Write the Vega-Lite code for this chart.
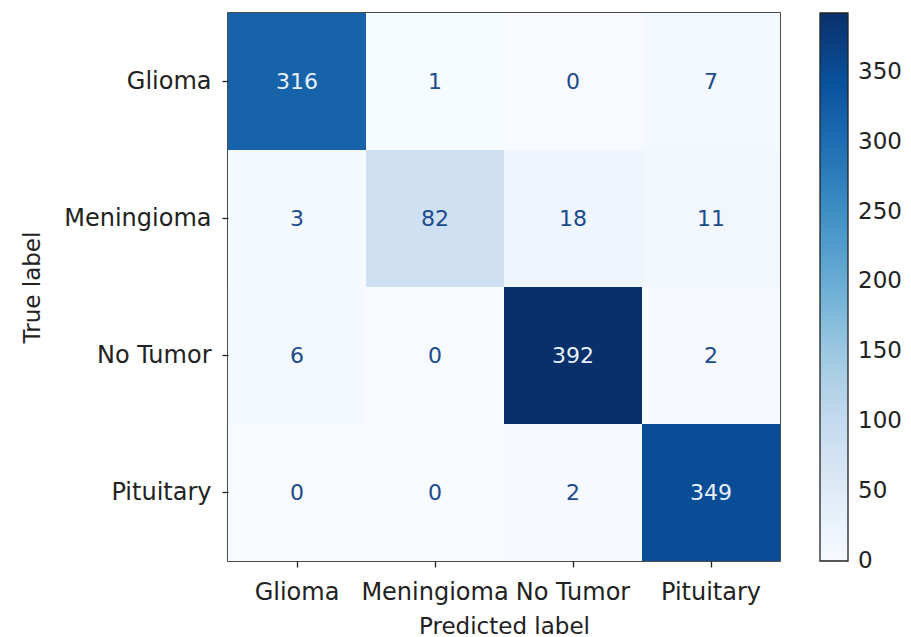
{
  "$schema": "https://vega.github.io/schema/vega-lite/v6.json",
  "autosize": "none",
  "width": 552,
  "height": 548,
  "padding": {"left": 228, "top": 13, "right": 131, "bottom": 76},
  "background": "white",
  "config": {
    "font": "DejaVu Sans",
    "view": {"stroke": "#111", "strokeWidth": 1.5},
    "axis": {
      "domain": false,
      "grid": false,
      "tickColor": "#222",
      "tickSize": 6,
      "tickWidth": 1.3,
      "labelFont": "DejaVu Sans",
      "labelFontSize": 24,
      "labelColor": "#222",
      "titleFont": "DejaVu Sans",
      "titleFontSize": 23,
      "titleFontWeight": "normal",
      "titleColor": "#222"
    }
  },
  "data": {
    "values": [
      {"true": "Glioma", "pred": "Glioma", "count": 316},
      {"true": "Glioma", "pred": "Meningioma", "count": 1},
      {"true": "Glioma", "pred": "No Tumor", "count": 0},
      {"true": "Glioma", "pred": "Pituitary", "count": 7},
      {"true": "Meningioma", "pred": "Glioma", "count": 3},
      {"true": "Meningioma", "pred": "Meningioma", "count": 82},
      {"true": "Meningioma", "pred": "No Tumor", "count": 18},
      {"true": "Meningioma", "pred": "Pituitary", "count": 11},
      {"true": "No Tumor", "pred": "Glioma", "count": 6},
      {"true": "No Tumor", "pred": "Meningioma", "count": 0},
      {"true": "No Tumor", "pred": "No Tumor", "count": 392},
      {"true": "No Tumor", "pred": "Pituitary", "count": 2},
      {"true": "Pituitary", "pred": "Glioma", "count": 0},
      {"true": "Pituitary", "pred": "Meningioma", "count": 0},
      {"true": "Pituitary", "pred": "No Tumor", "count": 2},
      {"true": "Pituitary", "pred": "Pituitary", "count": 349}
    ]
  },
  "encoding": {
    "x": {
      "field": "pred", "type": "nominal",
      "sort": ["Glioma", "Meningioma", "No Tumor", "Pituitary"],
      "scale": {"paddingInner": 0, "paddingOuter": 0},
      "axis": {"title": "Predicted label", "labelAngle": 0, "labelPadding": 13, "titlePadding": 11}
    },
    "y": {
      "field": "true", "type": "nominal",
      "sort": ["Glioma", "Meningioma", "No Tumor", "Pituitary"],
      "scale": {"paddingInner": 0, "paddingOuter": 0},
      "axis": {"title": "True label", "labelPadding": 11, "titlePadding": 19}
    }
  },
  "layer": [
    {
      "mark": {"type": "rect"},
      "encoding": {
        "color": {
          "field": "count", "type": "quantitative",
          "scale": {
            "domain": [0, 49, 98, 147, 196, 245, 294, 343, 392],
            "range": ["#f7fbff", "#deebf7", "#c6dbef", "#9ecae1", "#6baed6", "#4292c6", "#2171b5", "#08519c", "#08306b"]
          },
          "legend": {
            "title": null,
            "orient": "right",
            "offset": 40,
            "direction": "vertical",
            "gradientLength": 548,
            "gradientThickness": 28,
            "gradientStrokeColor": "#222",
            "gradientStrokeWidth": 1.3,
            "values": [0, 50, 100, 150, 200, 250, 300, 350],
            "labelFont": "DejaVu Sans",
            "labelFontSize": 23,
            "labelColor": "#222",
            "labelOffset": 10,
            "padding": 0,
            "encode": {
              "labels": {"update": {"baseline": {"value": "middle"}}}
            }
          }
        }
      }
    },
    {
      "mark": {"type": "text", "fontSize": 22, "font": "DejaVu Sans"},
      "encoding": {
        "text": {"field": "count", "type": "quantitative"},
        "color": {
          "condition": {"test": "datum.count > 196", "value": "#e8f1fb"},
          "value": "#1d4a8c"
        }
      }
    }
  ]
}
